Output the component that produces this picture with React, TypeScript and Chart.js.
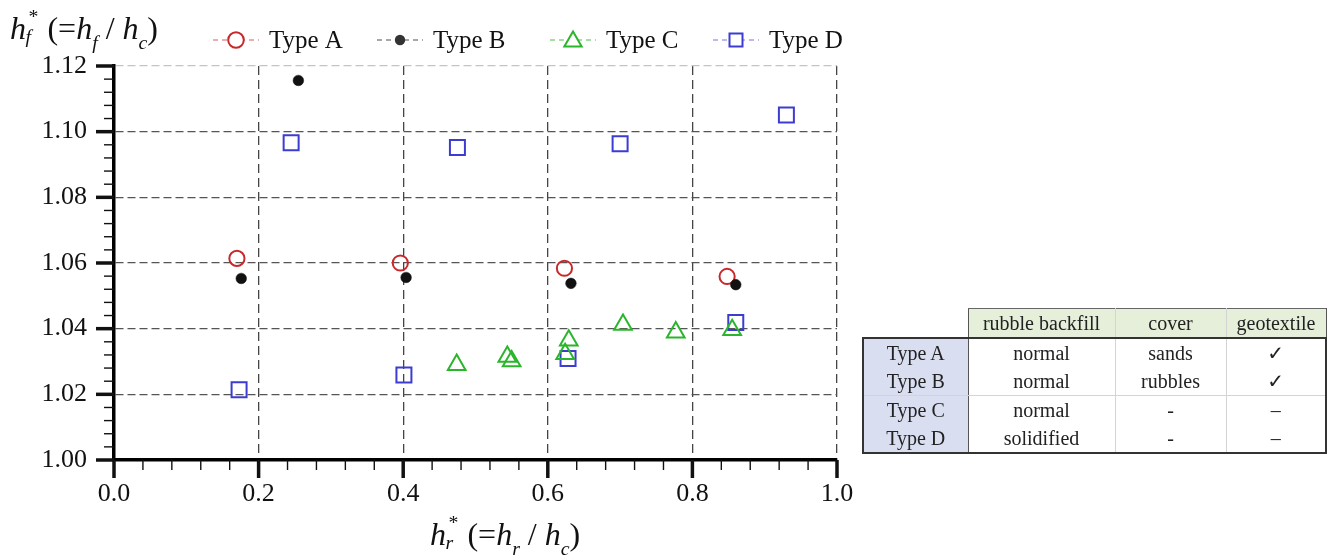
import React, { useEffect, useRef } from "react";
import { Chart, registerables } from "chart.js";

Chart.register(...registerables);

// ---------- data ----------
const seriesNames = ["Type A", "Type B", "Type C", "Type D"];

const xA = [0.170, 0.396, 0.623, 0.848];
const yA = [1.0614, 1.0600, 1.0584, 1.0559];

const xB = [0.176, 0.255, 0.404, 0.632, 0.860];
const yB = [1.0553, 1.1156, 1.0556, 1.0538, 1.0534];

const xC = [0.474, 0.544, 0.550, 0.624, 0.629, 0.704, 0.777, 0.855];
const yC = [1.0290, 1.0315, 1.0301, 1.0323, 1.0364, 1.0412, 1.0389, 1.0396];

const xD = [0.173, 0.245, 0.401, 0.475, 0.628, 0.700, 0.860, 0.930];
const yD = [1.0214, 1.0966, 1.0259, 1.0952, 1.0309, 1.0963, 1.0419, 1.1051];

const xMin = 0, xMax = 1.0, xMajorStep = 0.2, xMinorStep = 0.04;
const yMin = 1.0, yMax = 1.12, yMajorStep = 0.02, yMinorStep = 0.004;

const tableHeader = ["", "rubble backfill", "cover", "geotextile"];
const tableRowNames = ["Type A", "Type B", "Type C", "Type D"];
const tableBackfill = ["normal", "normal", "normal", "solidified"];
const tableCover = ["sands", "rubbles", "-", "-"];
const tableGeotextile = ["\u2713", "\u2713", "\u2013", "\u2013"];

// ---------- styles ----------
const colors = ["#c8282a", "#111111", "#2bb52b", "#3c3cd2"];
const legendLineColors = ["rgba(200,40,42,0.75)", "rgba(60,60,60,0.9)", "rgba(43,181,43,0.85)", "rgba(60,60,210,0.7)"];
const legendStarts = [213, 377, 550, 713];
const FONT = '"Liberation Serif", "Times New Roman", serif';

const isMajor = (v: number, step: number) => Math.abs(v / step - Math.round(v / step)) < 1e-6;

function drawMarker(ctx: CanvasRenderingContext2D, kind: number, x: number, y: number) {
  ctx.save();
  ctx.strokeStyle = colors[kind];
  ctx.fillStyle = colors[kind];
  ctx.setLineDash([]);
  ctx.beginPath();
  if (kind === 0) {
    ctx.lineWidth = 2;
    ctx.arc(x, y, 7.8, 0, Math.PI * 2);
    ctx.fillStyle = "#fff";
    ctx.fill();
    ctx.stroke();
  } else if (kind === 1) {
    ctx.fillStyle = "#333";
    ctx.arc(x, y, 5.2, 0, Math.PI * 2);
    ctx.fill();
  } else if (kind === 2) {
    const r = 10;
    ctx.lineWidth = 2;
    for (let i = 0; i < 3; i++) {
      const a = (i * 2 * Math.PI) / 3;
      const px = x + Math.sin(a) * r;
      const py = y - Math.cos(a) * r + 1.5;
      if (i === 0) ctx.moveTo(px, py);
      else ctx.lineTo(px, py);
    }
    ctx.closePath();
    ctx.fillStyle = "#fff";
    ctx.fill();
    ctx.stroke();
  } else {
    const s = 6.5;
    ctx.lineWidth = 2;
    ctx.rect(x - s, y - s, 2 * s, 2 * s);
    ctx.fillStyle = "#fff";
    ctx.fill();
    ctx.stroke();
  }
  ctx.restore();
}

const decorPlugin = {
  id: "decor",
  afterDraw(chart: any) {
    const ctx: CanvasRenderingContext2D = chart.ctx;
    const xs = chart.scales.x;
    const ys = chart.scales.y;
    const { left, bottom } = chart.chartArea;
    ctx.save();
    ctx.strokeStyle = "#111";
    ctx.setLineDash([]);
    xs.ticks.forEach((t: any) => {
      const major = isMajor(t.value, xMajorStep);
      const px = xs.getPixelForValue(t.value);
      ctx.lineWidth = major ? 3.5 : 1.4;
      ctx.beginPath();
      ctx.moveTo(px, bottom);
      ctx.lineTo(px, bottom + (major ? 18 : 10));
      ctx.stroke();
    });
    ys.ticks.forEach((t: any) => {
      const major = isMajor(t.value, yMajorStep);
      const py = ys.getPixelForValue(t.value);
      ctx.lineWidth = major ? 3.5 : 1.4;
      ctx.beginPath();
      ctx.moveTo(left, py);
      ctx.lineTo(left - (major ? 18 : 10), py);
      ctx.stroke();
    });

    // legend
    ctx.font = `25px ${FONT}`;
    ctx.textAlign = "left";
    ctx.textBaseline = "middle";
    const y = 40;
    seriesNames.forEach((name, i) => {
      const x = legendStarts[i];
      ctx.strokeStyle = legendLineColors[i];
      ctx.lineWidth = 1.2;
      ctx.setLineDash([5, 4]);
      ctx.beginPath();
      ctx.moveTo(x, y);
      ctx.lineTo(x + 46, y);
      ctx.stroke();
      ctx.setLineDash([]);
      drawMarker(ctx, i, x + 23, y);
      ctx.fillStyle = "#111";
      ctx.fillText(name, x + 56, y + 1);
    });
    ctx.restore();
  },
};

function toPoints(xs: number[], ys: number[]) {
  return xs.map((x, i) => ({ x, y: ys[i] }));
}

function SubSup({ sub, size }: { sub: string; size: number }) {
  return (
    <span style={{ position: "relative", display: "inline-block", width: size * 0.42, height: size }}>
      <span style={{ position: "absolute", left: size * 0.08, top: -size * 0.22, fontSize: size * 0.62, fontStyle: "normal" }}>*</span>
      <span style={{ position: "absolute", left: -size * 0.02, top: size * 0.42, fontSize: size * 0.62, fontStyle: "italic" }}>{sub}</span>
    </span>
  );
}

function AxisTitle({ sub, left, top }: { sub: string; left: number; top: number }) {
  const size = 32;
  const subStyle: React.CSSProperties = { fontSize: size * 0.62, fontStyle: "italic", position: "relative", top: size * 0.3 };
  return (
    <div
      style={{
        position: "absolute",
        left,
        top,
        fontSize: size,
        lineHeight: `${size}px`,
        whiteSpace: "nowrap",
        color: "#111",
        fontFamily: FONT,
      }}
    >
      <i>h</i>
      <SubSup sub={sub} size={size} />
      <span> (=</span>
      <i>h</i>
      <span style={subStyle}>{sub}</span>
      <span> / </span>
      <i>h</i>
      <span style={subStyle}>c</span>
      <span>)</span>
    </div>
  );
}

export default function App() {
  const canvasRef = useRef<HTMLCanvasElement | null>(null);

  useEffect(() => {
    if (!canvasRef.current) return;
    const tickFont = { family: FONT, size: 26 };
    const chart = new Chart(canvasRef.current, {
      type: "scatter",
      data: {
        datasets: [
          {
            label: seriesNames[0],
            data: toPoints(xA, yA),
            pointStyle: "circle",
            pointRadius: 7.6,
            borderWidth: 2,
            borderColor: colors[0],
            backgroundColor: "rgba(255,255,255,0)",
            order: 1,
          },
          {
            label: seriesNames[1],
            data: toPoints(xB, yB),
            pointStyle: "circle",
            pointRadius: 5.3,
            borderWidth: 0.5,
            borderColor: colors[1],
            backgroundColor: colors[1],
            order: 0,
          },
          {
            label: seriesNames[2],
            data: toPoints(xC, yC),
            pointStyle: "triangle",
            pointRadius: 10.2,
            borderWidth: 2,
            borderColor: colors[2],
            backgroundColor: "rgba(255,255,255,0)",
            order: 2,
          },
          {
            label: seriesNames[3],
            data: toPoints(xD, yD),
            pointStyle: "rect",
            pointRadius: 10.6,
            borderWidth: 2,
            borderColor: colors[3],
            backgroundColor: "rgba(255,255,255,0)",
            order: 3,
          },
        ],
      },
      options: {
        animation: false,
        responsive: false,
        events: [],
        layout: { padding: { top: 66, left: 0, right: 490, bottom: 0 } },
        plugins: {
          legend: { display: false },
          tooltip: { enabled: false },
          title: { display: false },
        },
        scales: {
          x: {
            type: "linear",
            min: xMin,
            max: xMax,
            afterFit: (s: any) => {
              s.height = 95;
            },
            ticks: {
              stepSize: xMinorStep,
              autoSkip: false,
              maxRotation: 0,
              minRotation: 0,
              padding: 19,
              color: "#111",
              font: tickFont,
              callback: (v: any) => (isMajor(Number(v), xMajorStep) ? Number(v).toFixed(1) : ""),
            },
            grid: {
              drawTicks: false,
              lineWidth: 1.3,
              color: (c: any) => {
                const v = c.tick ? c.tick.value : 0;
                if (isMajor(v, xMajorStep) && v > 1e-6) return "#444";
                return "rgba(0,0,0,0)";
              },
            },
            border: { display: true, color: "#000", width: 3.5, dash: [9, 5] },
          },
          y: {
            type: "linear",
            min: yMin,
            max: yMax,
            afterFit: (s: any) => {
              s.width = 114;
            },
            ticks: {
              stepSize: yMinorStep,
              autoSkip: false,
              padding: 27,
              color: "#111",
              font: tickFont,
              callback: (v: any) => (isMajor(Number(v), yMajorStep) ? Number(v).toFixed(2) : ""),
            },
            grid: {
              drawTicks: false,
              lineWidth: 1.3,
              color: (c: any) => {
                const v = c.tick ? c.tick.value : 0;
                if (!isMajor(v, yMajorStep) || v < yMin + 1e-6) return "rgba(0,0,0,0)";
                if (v > yMax - 1e-6) return "#c4c4c4";
                return "#555";
              },
            },
            border: { display: true, color: "#000", width: 3.5, dash: [8, 4] },
          },
        },
      },
      plugins: [decorPlugin],
    } as any);
    return () => chart.destroy();
  }, []);

  const cellBase: React.CSSProperties = {
    padding: 0,
    textAlign: "center",
    verticalAlign: "middle",
    fontSize: 20,
    color: "#222",
    fontFamily: FONT,
    height: 28,
  };
  const light = "1px solid #d4d4d4";
  const dark = "2px solid #333";

  return (
    <div
      style={{
        position: "absolute",
        left: 0,
        top: 0,
        width: 1327,
        height: 555,
        background: "#fff",
        overflow: "hidden",
        fontFamily: FONT,
      }}
    >
      <canvas ref={canvasRef} width={1327} height={555} style={{ position: "absolute", left: 0, top: 0 }} />
      <AxisTitle sub="f" left={10} top={7} />
      <AxisTitle sub="r" left={430} top={513} />
      <table
        style={{
          position: "absolute",
          left: 862,
          top: 308,
          width: 463,
          borderCollapse: "collapse",
          tableLayout: "fixed",
        }}
      >
        <colgroup>
          <col style={{ width: 105 }} />
          <col style={{ width: 147 }} />
          <col style={{ width: 111 }} />
          <col style={{ width: 100 }} />
        </colgroup>
        <tbody>
          <tr>
            {tableHeader.map((h, i) => (
              <td
                key={i}
                style={{
                  ...cellBase,
                  height: 28,
                  background: i === 0 ? "transparent" : "#e6efd9",
                  borderTop: i === 0 ? "none" : "1px solid #666",
                  borderLeft: i === 0 ? "none" : i === 1 ? "1px solid #555" : light,
                  borderRight: i === 3 ? "1px solid #555" : i === 0 ? "none" : light,
                  borderBottom: dark,
                }}
              >
                {h}
              </td>
            ))}
          </tr>
          {tableRowNames.map((name, r) => {
            const vals = [name, tableBackfill[r], tableCover[r], tableGeotextile[r]];
            return (
              <tr key={r}>
                {vals.map((v, c) => (
                  <td
                    key={c}
                    style={{
                      ...cellBase,
                      background: c === 0 ? "#d9dff1" : "#fff",
                      borderLeft: c === 0 ? dark : c === 1 ? "1px solid #555" : light,
                      borderRight: c === 3 ? dark : c === 0 ? "1px solid #555" : light,
                      borderBottom: r === 3 ? dark : r === 1 ? light : "none",
                      fontFamily: c === 3 && r < 2 ? '"DejaVu Sans", sans-serif' : FONT,
                      fontWeight: c === 3 && r < 2 ? 700 : 400,
                    }}
                  >
                    {v}
                  </td>
                ))}
              </tr>
            );
          })}
        </tbody>
      </table>
    </div>
  );
}
